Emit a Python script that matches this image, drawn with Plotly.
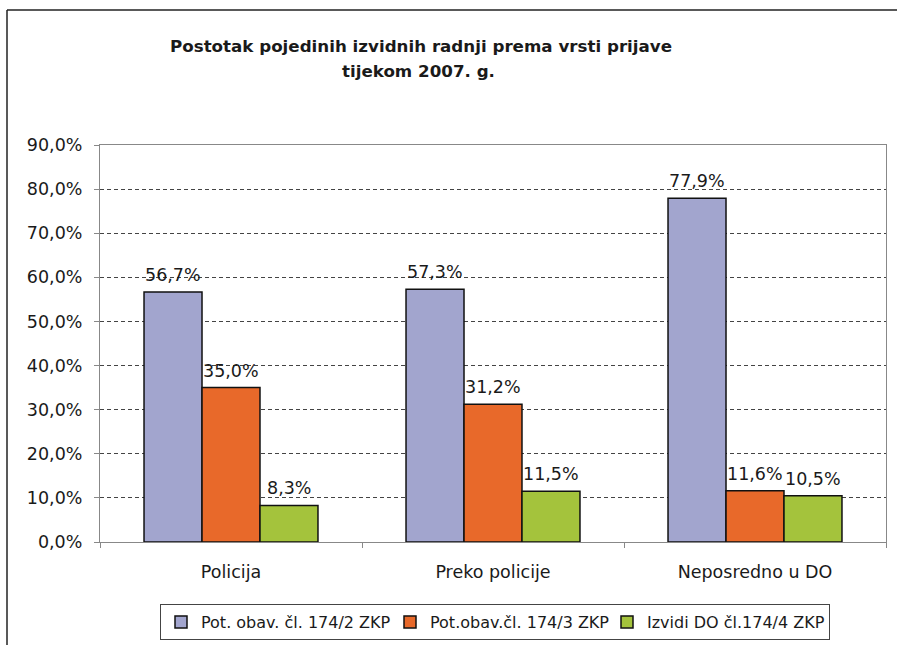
import plotly.graph_objects as go

categories = ["Policija", "Preko policije", "Neposredno u DO"]
series_names = ["Pot. obav. čl. 174/2 ZKP", "Pot.obav.čl. 174/3 ZKP", "Izvidi DO čl.174/4 ZKP"]
s1 = [56.7, 57.3, 77.9]
s2 = [35.0, 31.2, 11.6]
s3 = [8.3, 11.5, 10.5]
colors = ["#A2A5CE", "#E8692A", "#A4C33C"]
title_lines = ["Postotak pojedinih izvidnih radnji prema vrsti prijave", "tijekom 2007. g."]

FONT = "'DejaVu Sans', sans-serif"
TXT = "#1a1a1a"

W, H = 897, 645
L, R, T, B = 100, 11, 145, 103
pw, ph = W - L - R, H - T - B
BARGAP = 0.336
bar_px = pw / len(categories) * (1 - BARGAP) / 3
legend_widths = [184, 172, 177]

def px(x):
    return (x - L) / pw

def py(y):
    return (H - B - y) / ph

fig = go.Figure()
annotations = []
series = [s1, s2, s3]
for i, (name, vals, col) in enumerate(zip(series_names, series, colors)):
    fig.add_trace(go.Bar(
        x=categories, y=[v / 100 for v in vals], name=name,
        marker=dict(color=col, line=dict(color="#111111", width=1.5)),
        legendwidth=legend_widths[i],
    ))
    for cat, v in zip(categories, vals):
        annotations.append(dict(
            x=cat, y=v / 100, xref="x", yref="y",
            text=f"{v:.1f}%".replace(".", ","),
            showarrow=False, xanchor="center", yanchor="bottom",
            xshift=(i - 1) * bar_px, yshift=5,
            font=dict(family=FONT, size=17.5, color=TXT)))

annotations += [
    dict(text="<b>" + title_lines[0] + "</b>", xref="paper", yref="paper",
         x=px(421), y=py(46), xanchor="center", yanchor="middle", showarrow=False,
         font=dict(family=FONT, size=16.7, color=TXT)),
    dict(text="<b>" + title_lines[1] + "</b>", xref="paper", yref="paper",
         x=px(418), y=py(71), xanchor="center", yanchor="middle", showarrow=False,
         font=dict(family=FONT, size=16.7, color=TXT)),
]

fig.update_layout(
    width=W, height=H,
    margin=dict(l=L, r=R, t=T, b=B, pad=0, autoexpand=False),
    paper_bgcolor="white", plot_bgcolor="white",
    separators=",.",
    barmode="group", bargap=BARGAP, bargroupgap=0,
    font=dict(family=FONT, size=17.5, color=TXT),
    annotations=annotations,
    showlegend=True,
    legend=dict(orientation="h", x=px(160), xanchor="left", y=py(604), yanchor="top",
                bordercolor="#444444", borderwidth=1, bgcolor="white",
                font=dict(family=FONT, size=16, color=TXT),
                itemwidth=30, tracegroupgap=0),
    shapes=[
        dict(type="line", xref="paper", yref="paper", x0=px(7), x1=px(7), y0=py(10), y1=py(660),
             line=dict(color="#222222", width=1.5)),
        dict(type="line", xref="paper", yref="paper", x0=px(7), x1=px(910), y0=py(10), y1=py(10),
             line=dict(color="#222222", width=1.5)),
    ],
)
fig.update_yaxes(range=[0, 0.9], dtick=0.1, tickformat=".1%",
                 showgrid=True, gridcolor="#444444", gridwidth=1, griddash="4px,3px",
                 showline=True, linecolor="#888888", linewidth=1.2, mirror=True,
                 ticks="outside", ticklen=5, tickcolor="#888888", ticklabelstandoff=8,
                 tickfont=dict(family=FONT, size=17.5, color=TXT), zeroline=False)
fig.update_xaxes(showline=True, linecolor="#888888", linewidth=1.2, mirror=True,
                 ticks="outside", ticklen=5, tickcolor="#888888", tickson="boundaries",
                 ticklabelstandoff=14,
                 tickfont=dict(family=FONT, size=17.5, color=TXT))

fig.write_html("out.html", config={"displayModeBar": False},
               post_script="document.body.style.margin='0px';document.body.style.overflow='hidden';")
